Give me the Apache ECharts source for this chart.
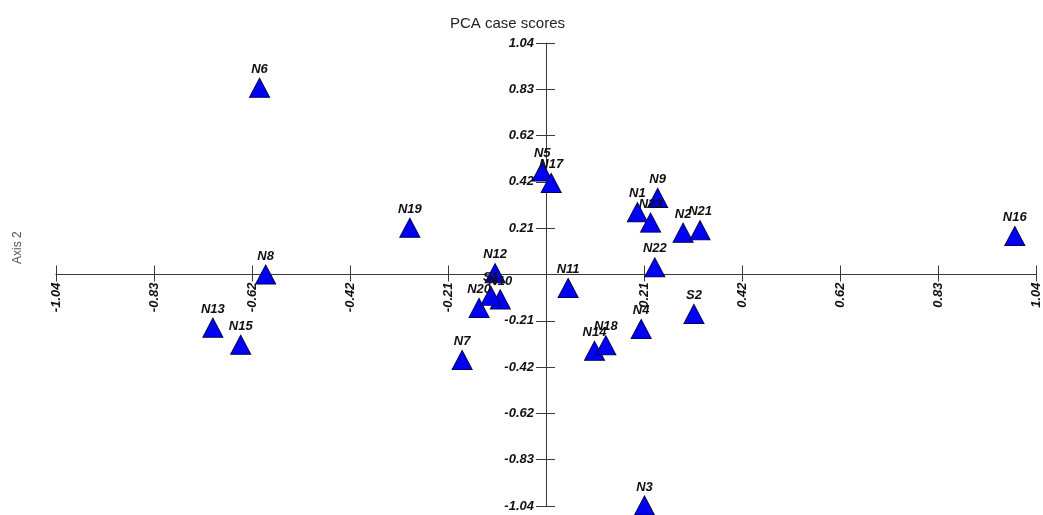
<!DOCTYPE html>
<html>
<head>
<meta charset="utf-8">
<title>PCA case scores</title>
<script src="https://cdn.jsdelivr.net/npm/echarts@6/dist/echarts.min.js"></script>
<style>
  html, body { margin: 0; padding: 0; background: #ffffff; }
  #chart { width: 1043px; height: 515px; }
</style>
</head>
<body>
<div id="chart"></div>
<script>
// Case names and their scores on the first two principal axes
const caseNames = ['N1', 'N2', 'N3', 'N4', 'N5', 'N6', 'N7', 'N8', 'N9', 'N10', 'N11', 'N12', 'N13',
  'N14', 'N15', 'N16', 'N17', 'N18', 'N19', 'N20', 'N21', 'N22', 'N23', 'S1', 'S2'];
const axis1Scores = [0.194, 0.291, 0.209, 0.202, -0.008, -0.608, -0.178, -0.595, 0.237, -0.097, 0.047, -0.108, -0.707,
  0.103, -0.648, 0.995, 0.011, 0.127, -0.289, -0.142, 0.327, 0.231, 0.222, -0.117, 0.314];
const axis2Scores = [0.280, 0.188, -1.038, -0.245, 0.463, 0.839, -0.384, 0.000, 0.344, -0.112, -0.061, 0.006, -0.239,
  -0.343, -0.316, 0.173, 0.411, -0.318, 0.210, -0.150, 0.199, 0.032, 0.233, -0.096, -0.177];

// Axis range and tick step shared by both axes
const axisMin = -1.04;
const axisMax = 1.04;
const tickStep = 0.208;

const tickLabel = v => (Math.abs(v) < 1e-9 ? '' : v.toFixed(2));

// Plot area; the axes cross in its middle, where both scores are zero
const gridBox = { left: 56, top: 43, width: 980, height: 463 };
const xAxisShift = -gridBox.height / 2;   // move bottom axis up to y = 0
const yAxisShift = -gridBox.width / 2;    // move left axis right to x = 0

const labelFont = {
  fontFamily: 'Arial, "Liberation Sans", sans-serif',
  fontSize: 13,
  fontWeight: 'bold',
  fontStyle: 'italic',
  color: '#111'
};
const axisColor = '#3a3a3a';

const chart = echarts.init(document.getElementById('chart'), null, { renderer: 'canvas' });

const points = caseNames.map((n, i) => ({ name: n, value: [axis1Scores[i], axis2Scores[i]] }));

function valueAxis(extra) {
  return Object.assign({
    type: 'value', min: axisMin, max: axisMax, interval: tickStep,
    splitLine: { show: false }
  }, extra);
}

chart.setOption({
  animation: false,
  backgroundColor: '#ffffff',
  title: {
    text: 'PCA case scores',
    left: 445,
    top: 11,
    textStyle: {
      fontFamily: 'Arial, "Liberation Sans", sans-serif',
      fontSize: 15,
      fontWeight: 'normal',
      color: '#222'
    }
  },
  graphic: [{
    type: 'text',
    x: 12,
    y: 264,
    rotation: Math.PI / 2,
    style: {
      text: 'Axis 2',
      fill: '#555',
      font: '12px Arial, "Liberation Sans", sans-serif'
    }
  }],
  grid: Object.assign({ containLabel: false, outerBoundsMode: 'none' }, gridBox),
  xAxis: [
    valueAxis({
      position: 'bottom', offset: xAxisShift,
      axisLine: { onZero: false, lineStyle: { color: axisColor, width: 1 } },
      axisTick: { show: true, inside: false, length: 7, lineStyle: { color: axisColor } },
      axisLabel: Object.assign({ rotate: 90, margin: 8, formatter: tickLabel, showMinLabel: true, showMaxLabel: true }, labelFont)
    }),
    valueAxis({
      position: 'bottom', offset: xAxisShift,
      axisLine: { show: false, onZero: false },
      axisTick: { show: true, inside: true, length: 9, lineStyle: { color: axisColor } },
      axisLabel: { show: false }
    })
  ],
  yAxis: [
    valueAxis({
      position: 'left', offset: yAxisShift,
      axisLine: { onZero: false, lineStyle: { color: axisColor, width: 1 } },
      axisTick: { show: true, inside: false, length: 10, lineStyle: { color: axisColor } },
      axisLabel: Object.assign({ margin: 12, formatter: tickLabel, showMinLabel: true, showMaxLabel: true }, labelFont)
    }),
    valueAxis({
      position: 'left', offset: yAxisShift,
      axisLine: { show: false, onZero: false },
      axisTick: { show: true, inside: true, length: 9, lineStyle: { color: axisColor } },
      axisLabel: { show: false }
    })
  ],
  series: [{
    type: 'scatter',
    xAxisIndex: 0,
    yAxisIndex: 0,
    symbol: 'triangle',
    symbolSize: [20, 19],
    itemStyle: { color: '#0000f5', borderColor: '#00005a', borderWidth: 1, opacity: 1 },
    label: Object.assign({ show: true, position: 'top', distance: 2, formatter: '{b}' }, labelFont),
    emphasis: { disabled: true },
    data: points
  }]
});
</script>
</body>
</html>
